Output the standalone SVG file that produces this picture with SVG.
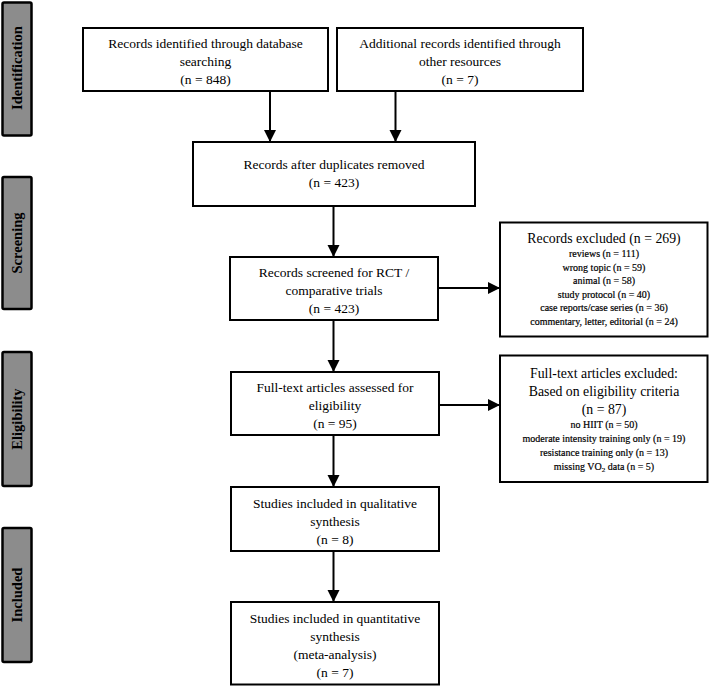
<svg xmlns="http://www.w3.org/2000/svg" width="709" height="686" viewBox="0 0 709 686">
<style>
.bg{fill:#ffffff}
.box{fill:#ffffff;stroke:#000;stroke-width:2}
.side{fill:#8c8c8c;stroke:#000;stroke-width:2.5}
.t{font-family:"Liberation Serif","Times New Roman",serif;font-size:13.5px;fill:#000;text-anchor:middle}
.h{font-family:"Liberation Serif","Times New Roman",serif;font-size:13.8px;fill:#000;text-anchor:middle}
.s{font-family:"Liberation Serif","Times New Roman",serif;font-size:10px;fill:#000;stroke:#000;stroke-width:0.2;text-anchor:middle}
.st{font-family:"Liberation Serif","Times New Roman",serif;font-size:14.5px;font-weight:bold;fill:#000;text-anchor:middle}
.c{stroke:#000;stroke-width:2;fill:none;marker-end:url(#ah)}
</style>
<defs>
<marker id="ah" markerUnits="userSpaceOnUse" markerWidth="13" markerHeight="13" viewBox="0 0 13 13" refX="12" refY="6.5" orient="auto">
<path d="M0,0.5 L12,6.5 L0,12.5 Z" fill="#000"/>
</marker>
</defs>
<rect class="bg" x="0" y="0" width="709" height="686"/>

<g id="side-identification">
<rect class="side" x="2.5" y="2.5" width="29" height="133" rx="1.5"/>
<text class="st" transform="translate(22,68) rotate(-90)">Identification</text>
</g>
<g id="side-screening">
<rect class="side" x="2.5" y="177" width="29" height="132" rx="1.5"/>
<text class="st" transform="translate(22,243) rotate(-90)">Screening</text>
</g>
<g id="side-eligibility">
<rect class="side" x="2.5" y="352" width="29" height="134" rx="1.5"/>
<text class="st" transform="translate(22,419) rotate(-90)">Eligibility</text>
</g>
<g id="side-included">
<rect class="side" x="2.5" y="528" width="29" height="134" rx="1.5"/>
<text class="st" transform="translate(22,595) rotate(-90)">Included</text>
</g>

<g id="connectors">
<line class="c" x1="270" y1="91" x2="270" y2="142"/>
<line class="c" x1="395.5" y1="91" x2="395.5" y2="142"/>
<line class="c" x1="333.5" y1="206" x2="333.5" y2="257"/>
<line class="c" x1="333.5" y1="320" x2="333.5" y2="372"/>
<line class="c" x1="438" y1="288" x2="500" y2="288"/>
<line class="c" x1="333.5" y1="435" x2="333.5" y2="487"/>
<line class="c" x1="439" y1="405" x2="500" y2="405"/>
<line class="c" x1="333.5" y1="551" x2="333.5" y2="602"/>
</g>

<g id="n-database">
<rect class="box" x="83" y="28" width="245" height="63"/>
<text class="t" x="205.5" y="47.5">Records identified through database</text>
<text class="t" x="205.5" y="65.5">searching</text>
<text class="t" x="205.5" y="83.5">(n = 848)</text>
</g>
<g id="n-additional">
<rect class="box" x="337" y="28" width="246" height="63"/>
<text class="t" x="460" y="47.5">Additional records identified through</text>
<text class="t" x="460" y="65.5">other resources</text>
<text class="t" x="460" y="83.5">(n = 7)</text>
</g>
<g id="n-duplicates">
<rect class="box" x="193" y="142" width="282" height="64"/>
<text class="t" x="334" y="168.5">Records after duplicates removed</text>
<text class="t" x="334" y="187">(n = 423)</text>
</g>
<g id="n-screened">
<rect class="box" x="230" y="257" width="208" height="63"/>
<text class="t" x="334" y="276.5">Records screened for RCT /</text>
<text class="t" x="334" y="295">comparative trials</text>
<text class="t" x="334" y="313">(n = 423)</text>
</g>
<g id="n-excluded">
<rect class="box" x="500" y="222.5" width="207.5" height="114"/>
<text class="h" x="604" y="242.5">Records excluded (n = 269)</text>
<text class="s" x="604" y="256.5">reviews (n = 111)</text>
<text class="s" x="604" y="270.5">wrong topic (n = 59)</text>
<text class="s" x="604" y="283.5">animal (n = 58)</text>
<text class="s" x="604" y="297.5">study protocol (n = 40)</text>
<text class="s" x="604" y="311">case reports/case series (n = 36)</text>
<text class="s" x="604" y="325">commentary, letter, editorial (n = 24)</text>
</g>
<g id="n-fulltext">
<rect class="box" x="231" y="372" width="208" height="63"/>
<text class="t" x="335" y="391.5">Full-text articles assessed for</text>
<text class="t" x="335" y="409.5">eligibility</text>
<text class="t" x="335" y="427.5">(n = 95)</text>
</g>
<g id="n-fulltext-excluded">
<rect class="box" x="500" y="355.5" width="207.5" height="126.5"/>
<text class="h" x="604" y="378">Full-text articles excluded:</text>
<text class="h" x="604" y="395.5">Based on eligibility criteria</text>
<text class="h" x="604" y="414">(n = 87)</text>
<text class="s" x="604" y="427.5">no HIIT (n = 50)</text>
<text class="s" x="604" y="441.5">moderate intensity training only (n = 19)</text>
<text class="s" x="604" y="455.5">resistance training only (n = 13)</text>
<text class="s" x="604" y="469.5">missing VO<tspan font-size="7" dy="2">2</tspan><tspan dy="-2"> data (n = 5)</tspan></text>
</g>
<g id="n-qualitative">
<rect class="box" x="231" y="487" width="208" height="64"/>
<text class="t" x="335" y="507.5">Studies included in qualitative</text>
<text class="t" x="335" y="525.5">synthesis</text>
<text class="t" x="335" y="543.5">(n = 8)</text>
</g>
<g id="n-quantitative">
<rect class="box" x="231" y="602" width="208" height="82.5"/>
<text class="t" x="335" y="622.5">Studies included in quantitative</text>
<text class="t" x="335" y="640.5">synthesis</text>
<text class="t" x="335" y="658.5">(meta-analysis)</text>
<text class="t" x="335" y="676.5">(n = 7)</text>
</g>
</svg>
